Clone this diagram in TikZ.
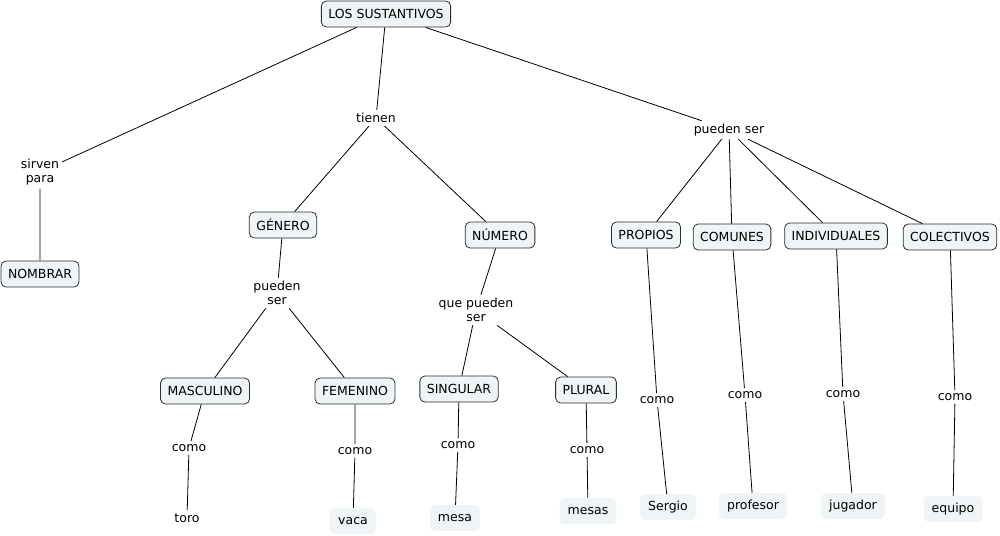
\documentclass[tikz,border=0pt]{standalone}
\usepackage{fontspec}
\setmainfont{DejaVu Sans}
\usetikzlibrary{positioning}
\definecolor{conceptfill}{RGB}{239,244,246}
\definecolor{conceptline}{RGB}{45,45,45}
\tikzset{
  concept/.style={draw=conceptline,fill=conceptfill,rounded corners=5pt,
    inner xsep=7pt,minimum height=26pt,line width=0.8pt},
  leaf/.style={fill=conceptfill,rounded corners=5pt,inner xsep=8pt,minimum height=26pt},
  phrase/.style={fill=white,align=center,inner sep=3pt},
  link/.style={line width=0.8pt}
}

\begin{document}
\begin{tikzpicture}[x=1pt,y=-1pt,font=\fontsize{12.5}{14.5}\selectfont]
\useasboundingbox (0,0) rectangle (1000,535);
% top
\node[concept] (sust) at (386,14) {LOS SUSTANTIVOS};
\node[phrase] (sirven) at (40,172) {sirven\\para};
\node[phrase] (tienen) at (376,118) {tienen};
\node[phrase] (puedenr) at (729,130) {pueden ser};
\node[concept] (nombrar) at (40,274) {NOMBRAR};
% genero y numero
\node[concept] (genero) at (283,225) {GÉNERO};
\node[concept] (numero) at (500,235) {NÚMERO};
\node[phrase] (puedeng) at (277,293) {pueden\\ser};
\node[phrase] (quepueden) at (476,310) {que pueden\\ser};
\node[concept] (masc) at (205,391) {MASCULINO};
\node[concept] (fem) at (355,391) {FEMENINO};
\node[concept] (sing) at (459,389) {SINGULAR};
\node[concept] (plural) at (586,390) {PLURAL};
\node[phrase] (como1) at (189,448) {como};
\node[phrase] (como2) at (355,451) {como};
\node[phrase] (como3) at (458,445) {como};
\node[phrase] (como4) at (587,450) {como};
\node (toro) at (187,518) {toro};
\node[leaf] (vaca) at (353,521) {vaca};
\node[leaf] (mesa) at (455,518) {mesa};
\node[leaf] (mesas) at (588,511) {mesas};
% clases
\node[concept] (propios) at (646,235) {PROPIOS};
\node[concept] (comunes) at (732,237) {COMUNES};
\node[concept] (indiv) at (836,236) {INDIVIDUALES};
\node[concept] (colect) at (950,237) {COLECTIVOS};
\node[phrase] (como5) at (657,400) {como};
\node[phrase] (como6) at (745,395) {como};
\node[phrase] (como7) at (843,394) {como};
\node[phrase] (como8) at (955,397) {como};
\node[leaf] (sergio) at (668,507) {Sergio};
\node[leaf] (profesor) at (753,506) {profesor};
\node[leaf] (jugador) at (853,506) {jugador};
\node[leaf] (equipo) at (953,509) {equipo};
% connectors
\draw[link] (sust) -- (sirven) -- (nombrar);
\draw[link] (sust) -- (tienen);
\draw[link] (sust) -- (puedenr);
\draw[link] (tienen) -- (genero);
\draw[link] (tienen) -- (numero);
\draw[link] (genero) -- (puedeng);
\draw[link] (puedeng) -- (masc);
\draw[link] (puedeng) -- (fem);
\draw[link] (numero) -- (quepueden);
\draw[link] (quepueden) -- (sing);
\draw[link] (quepueden) -- (plural);
\draw[link] (masc) -- (como1) -- (toro);
\draw[link] (fem) -- (como2) -- (vaca);
\draw[link] (sing) -- (como3) -- (mesa);
\draw[link] (plural) -- (como4) -- (mesas);
\foreach \c/\k/\l in {propios/como5/sergio,comunes/como6/profesor,indiv/como7/jugador,colect/como8/equipo}
  \draw[link] (puedenr) -- (\c) -- (\k) -- (\l);
\end{tikzpicture}
\end{document}
